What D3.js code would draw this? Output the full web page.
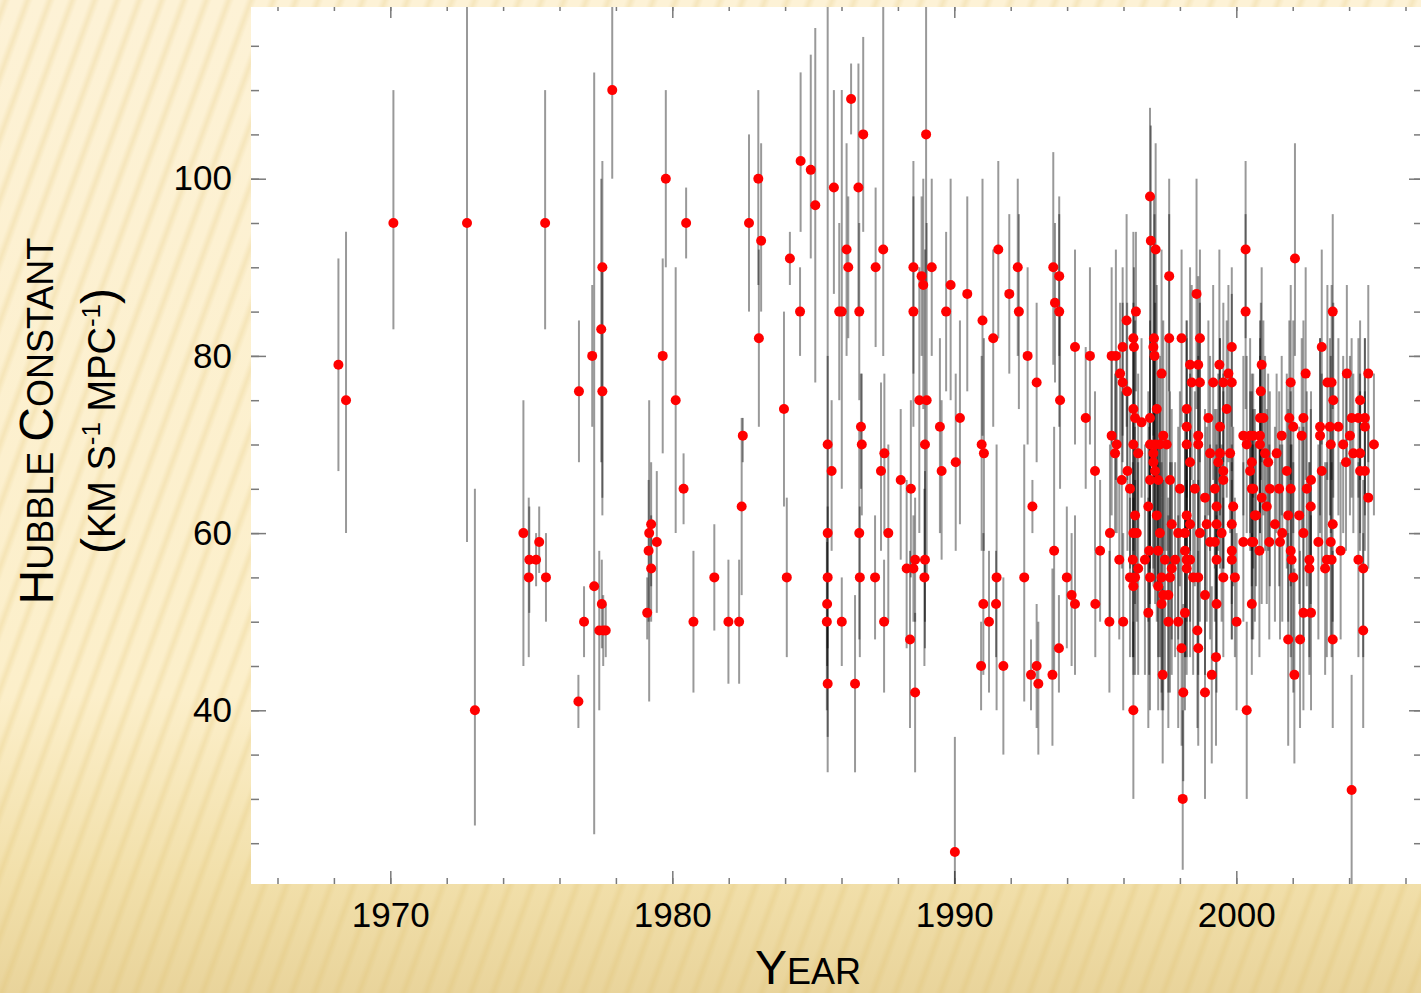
<!DOCTYPE html>
<html>
<head>
<meta charset="utf-8">
<title>Hubble constant over time</title>
<script src="https://cdn.jsdelivr.net/npm/d3@7"></script>
<style>
  body { margin: 0; overflow: hidden; }
  svg { display: block; }
</style>
</head>
<body>
<div id="chart"></div>
<script>
// each row: [year, H0, bottom of error bar, top of error bar]
var sixties = [
  [1968.16, 79, 67, 91], [1968.43, 75, 60, 94]
];

var seventies = [
  [1970.11, 95, 83, 110], [1972.72, 95, 59, 125], [1973.00, 40, 27, 65],
  [1975.49, 95, 83, 110], [1974.72, 60, 45, 75], [1974.91, 55, 46, 64],
  [1974.93, 57, 51, 63], [1975.17, 57, 54, 60], [1975.28, 59, 55.5, 63],
  [1975.52, 55, 50, 60], [1976.69, 76, 68, 84], [1976.67, 41, 38, 44],
  [1976.87, 50, 46, 54], [1977.16, 80, 72, 88], [1977.23, 54, 26, 112],
  [1977.41, 49, 40, 58], [1977.50, 52, 47, 57], [1977.55, 49, 45, 53],
  [1977.64, 49, 46, 52], [1977.52, 90, 64, 102], [1977.48, 83, 68, 100],
  [1977.52, 76, 62, 90], [1977.87, 110, 100, 125], [1979.11, 51, 48, 55],
  [1979.25, 61, 54, 68], [1979.18, 60, 41, 75], [1979.16, 58, 50, 66],
  [1979.45, 59, 51, 67], [1979.25, 56, 50, 62], [1979.77, 100, 90, 110],
  [1979.66, 80, 69, 91]
];

var eighties = [
  [1980.49, 95, 91, 99], [1980.12, 75, 60, 90], [1980.40, 65, 61, 69],
  [1980.75, 50, 42, 58], [1981.49, 55, 49, 61], [1981.99, 50, 43, 57],
  [1982.37, 50, 43, 57], [1982.46, 63, 53, 73], [1982.50, 71, 68, 73],
  [1982.72, 95, 85, 105], [1983.05, 100, 88, 110], [1983.15, 93, 85, 104],
  [1983.07, 82, 72, 92], [1983.96, 74, 63, 85], [1984.06, 55, 46, 64],
  [1984.17, 91, 88, 94], [1984.55, 102, 94, 112], [1984.53, 85, 80, 90],
  [1984.91, 101, 91, 114], [1985.07, 97, 77, 117], [1985.51, 70, 60, 80],
  [1985.51, 60, 33, 125], [1985.51, 55, 47, 63], [1985.49, 52, 45, 59],
  [1985.48, 50, 40, 60], [1985.51, 43, 37, 50], [1985.65, 67, 58, 75],
  [1985.73, 99, 87, 110], [1985.92, 85, 75, 95], [1986.34, 109, 105, 113],
  [1986.77, 105, 94, 116], [1986.60, 99, 85, 113], [1986.18, 92, 80, 104],
  [1986.24, 90, 82, 98], [1986.01, 85, 65, 110], [1986.63, 85, 75, 95],
  [1987.21, 90, 81, 99], [1987.48, 92, 80, 125], [1986.69, 72, 65, 78],
  [1986.72, 70, 62, 78], [1986.63, 60, 48, 72], [1986.65, 55, 46, 63],
  [1986.01, 50, 45, 55], [1986.48, 43, 33, 53], [1987.52, 69, 60, 78],
  [1987.40, 67, 58, 77], [1987.66, 60, 50, 70], [1987.19, 55, 48, 62],
  [1987.51, 50, 42, 57], [1988.10, 66, 57, 74], [1988.46, 65, 55, 75],
  [1988.31, 56, 47, 66], [1988.55, 56, 50, 62], [1988.61, 57, 50, 64],
  [1988.96, 57, 47, 67], [1988.94, 55, 45, 65], [1988.43, 48, 38, 58],
  [1988.61, 42, 33, 51], [1988.55, 90, 78, 102], [1988.84, 89, 80, 98],
  [1988.90, 88, 74, 100], [1988.55, 85, 72, 98], [1989.00, 105, 88, 125],
  [1989.20, 90, 80, 100], [1988.76, 75, 60, 90], [1989.02, 75, 55, 95],
  [1988.96, 70, 50, 92], [1989.49, 72, 60, 82], [1989.55, 67, 57, 75],
  [1989.87, 88, 75, 100], [1989.71, 85, 76, 94]
];

var nineties = [
  [1990.20, 73, 61, 84], [1990.05, 68, 58, 78], [1990.02, 24, 17, 37],
  [1990.46, 87, 76, 98], [1991.00, 84, 71, 100], [1990.97, 70, 58, 80],
  [1991.05, 69, 58, 82], [1990.95, 45, 40, 50], [1991.03, 52, 44, 60],
  [1991.23, 50, 42, 58], [1991.38, 82, 72, 92], [1991.56, 92, 82, 102],
  [1991.50, 55, 40, 70], [1991.48, 52, 46, 58], [1991.74, 45, 35, 55],
  [1991.95, 87, 78, 96], [1992.25, 90, 80, 100], [1992.29, 85, 74, 96],
  [1992.60, 80, 70, 90], [1992.92, 77, 68, 86], [1992.77, 63, 60, 66],
  [1992.48, 55, 41, 70], [1992.72, 44, 40, 48], [1992.92, 45, 38, 52],
  [1992.98, 43, 35, 50], [1993.48, 44, 36, 56], [1993.54, 58, 44, 72],
  [1993.51, 90, 79, 103], [1993.72, 89, 80, 98], [1993.57, 86, 77, 95],
  [1993.72, 85, 72, 96], [1993.75, 75, 65, 85], [1993.71, 47, 42, 53],
  [1993.99, 55, 47, 63], [1994.16, 53, 45, 60], [1994.28, 52, 44, 62],
  [1994.28, 81, 70, 92], [1994.66, 73, 65, 81], [1994.81, 80, 70, 90],
  [1994.99, 67, 58, 76], [1995.00, 52, 46, 58], [1995.17, 58, 50, 66],
  [1996.94, 98, 88, 108], [1996.97, 93, 80, 106], [1997.14, 92, 82, 104],
  [1997.62, 89, 76, 100], [1998.59, 87, 74, 100], [1996.44, 85, 76, 94],
  [1996.11, 84, 72, 96], [1996.35, 82, 70, 94], [1996.37, 81, 73, 90],
  [1997.08, 82, 66, 98], [1997.06, 81, 71, 92], [1997.10, 80, 62, 96],
  [1997.62, 82, 70, 96], [1998.06, 82, 72, 92], [1998.71, 82, 70, 92],
  [1995.58, 80, 70, 90], [1995.73, 80, 66, 92], [1995.97, 81, 71, 90],
  [1999.84, 81, 72, 90], [1998.36, 79, 68, 90], [1998.65, 79, 70, 89],
  [1999.40, 79, 66, 92], [1999.72, 78, 68, 88], [1995.88, 78, 70, 86],
  [1995.97, 77, 68, 86], [1996.13, 76, 66, 86], [1997.35, 78, 64, 92],
  [1998.42, 77, 66, 88], [1998.71, 77, 68, 86], [1999.18, 77, 66, 88],
  [1999.54, 77, 68, 86], [1999.84, 77, 67, 87], [1996.35, 74, 62, 86],
  [1997.18, 74, 60, 88], [1998.24, 74, 64, 84], [1999.66, 74, 64, 84],
  [1996.41, 73, 62, 84], [1996.64, 72.5, 64, 82], [1996.94, 73, 58, 88],
  [1999.01, 73, 62, 84], [1998.24, 72, 60, 84], [1999.42, 72, 62, 82],
  [1995.58, 71, 62, 80], [1997.41, 71, 58, 84], [1998.65, 71, 60, 82],
  [1995.76, 70, 60, 80], [1995.70, 69, 60, 78], [1996.35, 70, 58, 82],
  [1996.94, 70, 56, 84], [1997.12, 70, 54, 86], [1997.29, 70, 60, 80],
  [1997.53, 70, 58, 82], [1998.24, 70, 58, 82], [1998.65, 70, 60, 80],
  [1999.07, 69, 58, 80], [1999.42, 69, 56, 82], [1999.78, 69, 60, 78],
  [1996.52, 69, 60, 78], [1997.06, 69, 56, 82], [1996.14, 67, 58, 76],
  [1997.06, 68, 54, 82], [1997.12, 67, 52, 82], [1998.36, 68, 58, 78],
  [1999.36, 68, 58, 78], [1999.54, 67, 56, 78], [1995.94, 66, 56, 76],
  [1996.23, 65, 56, 74], [1996.94, 66, 52, 80], [1997.23, 66, 54, 78],
  [1997.65, 66, 56, 76], [1998.00, 65, 54, 76], [1998.53, 65, 54, 76],
  [1999.24, 65, 56, 74], [1999.54, 66, 56, 76], [1998.89, 64, 54, 74],
  [1999.30, 63, 52, 74], [1999.89, 63, 54, 72], [1996.41, 62, 52, 72],
  [1996.88, 63, 50, 76], [1997.18, 62, 50, 74], [1997.71, 61, 48, 74],
  [1998.24, 62, 50, 74], [1998.36, 61, 50, 72], [1998.95, 61, 50, 72],
  [1999.30, 61, 52, 70], [1999.84, 61, 52, 70], [1995.52, 60, 50, 70],
  [1996.35, 60, 46, 74], [1996.47, 60, 50, 70], [1997.29, 60, 46, 74],
  [1997.94, 60, 48, 72], [1998.18, 60, 46, 74], [1998.71, 60, 50, 70],
  [1999.48, 60, 50, 70], [1999.07, 59, 48, 70], [1999.24, 59, 50, 68],
  [1996.91, 58, 44, 72], [1997.23, 58, 46, 70], [1998.18, 58, 46, 70],
  [1999.84, 58, 48, 68], [1995.85, 57, 48, 66], [1996.33, 57, 46, 68],
  [1996.76, 57, 44, 70], [1997.47, 57, 44, 70], [1997.83, 57, 46, 68],
  [1998.24, 57, 44, 70], [1998.36, 57, 46, 68], [1999.30, 57, 46, 68],
  [1999.84, 57, 48, 66], [1996.52, 56, 44, 68], [1997.71, 56, 44, 68],
  [1998.24, 56, 46, 66], [1996.23, 55, 46, 64], [1996.41, 55, 44, 66],
  [1996.94, 55, 40, 70], [1997.35, 55, 42, 68], [1997.65, 55, 42, 68],
  [1998.47, 55, 44, 66], [1998.65, 55, 44, 66], [1999.54, 55, 46, 64],
  [1999.95, 55, 46, 64], [1996.35, 54, 44, 64], [1997.23, 54, 40, 68],
  [1997.41, 53, 40, 66], [1997.59, 53, 42, 64], [1997.35, 52, 40, 64],
  [1998.89, 53, 44, 62], [1999.30, 52, 42, 62], [1995.50, 50, 42, 58],
  [1995.99, 50, 40, 60], [1996.88, 51, 38, 64], [1997.59, 50, 38, 62],
  [1997.94, 50, 38, 62], [1998.18, 51, 40, 62], [1998.62, 49, 38, 60],
  [1998.06, 47, 36, 58], [1998.65, 47, 36, 58], [1999.28, 46, 36, 56],
  [1997.39, 44, 34, 54], [1999.13, 44, 34, 54], [1998.12, 42, 32, 52],
  [1998.89, 42, 30, 54], [1996.35, 40, 30, 50], [1998.10, 30, 22, 40]
];

var twothousands = [
  [2000.01, 50, 40, 60], [2000.25, 71, 62, 80], [2000.60, 71, 64, 78],
  [2000.37, 70, 60, 80], [2000.49, 67, 58, 76], [2000.60, 65, 56, 74],
  [2000.70, 62, 54, 70], [2000.25, 59, 50, 68], [2000.60, 59, 48, 70],
  [2000.55, 52, 44, 60], [2000.37, 40, 30, 50], [2000.33, 92, 82, 102],
  [2000.33, 85, 74, 96], [2002.08, 91, 80, 104], [2003.42, 85, 74, 96],
  [2003.03, 81, 70, 92], [2000.90, 79, 68, 90], [2002.46, 78, 66, 90],
  [2001.93, 77, 66, 88], [2003.23, 77, 66, 88], [2003.38, 77, 66, 88],
  [2003.92, 78, 68, 88], [2004.68, 78, 68, 88], [2003.44, 75, 64, 86],
  [2000.87, 76, 66, 86], [2004.39, 75, 66, 84], [2000.84, 73, 62, 84],
  [2000.96, 73, 62, 84], [2001.88, 73, 62, 84], [2002.38, 73, 62, 84],
  [2004.09, 73, 64, 82], [2004.33, 73, 64, 82], [2004.56, 73, 64, 82],
  [2000.49, 71, 60, 82], [2000.84, 71, 60, 82], [2001.61, 71, 62, 80],
  [2002.02, 72, 60, 84], [2002.32, 71, 60, 82], [2002.97, 72, 62, 82],
  [2003.32, 72, 62, 82], [2003.62, 72, 62, 82], [2002.97, 71, 60, 82],
  [2003.35, 70, 60, 80], [2003.79, 70, 60, 80], [2004.03, 71, 62, 80],
  [2004.56, 72, 62, 82], [2004.88, 70, 62, 78], [2000.84, 70, 60, 80],
  [2001.02, 69, 58, 80], [2001.43, 69, 60, 78], [2000.55, 68, 58, 78],
  [2001.13, 68, 58, 78], [2003.89, 68, 58, 78], [2004.15, 69, 60, 78],
  [2004.39, 69, 60, 78], [2001.79, 67, 56, 78], [2003.03, 67, 56, 78],
  [2004.39, 67, 58, 76], [2004.56, 67, 58, 76], [2002.65, 66, 56, 76],
  [2000.55, 65, 54, 76], [2001.19, 65, 54, 76], [2001.52, 65, 54, 76],
  [2001.93, 65, 54, 76], [2002.50, 65, 54, 76], [2000.90, 64, 52, 76],
  [2001.08, 63, 52, 74], [2004.68, 64, 56, 72], [2002.64, 63, 52, 74],
  [2000.66, 62, 50, 74], [2001.84, 62, 50, 74], [2002.23, 62, 52, 72],
  [2001.37, 61, 50, 72], [2003.42, 61, 50, 72], [2001.63, 60, 50, 70],
  [2002.38, 60, 48, 72], [2000.55, 59, 48, 70], [2001.17, 59, 48, 70],
  [2001.55, 59, 48, 70], [2002.91, 59, 48, 70], [2003.35, 59, 48, 70],
  [2000.82, 58, 46, 70], [2001.93, 58, 46, 70], [2003.70, 58, 48, 68],
  [2001.96, 57, 44, 70], [2002.59, 57, 46, 68], [2003.21, 57, 46, 68],
  [2003.38, 57, 46, 68], [2004.33, 57, 46, 68], [2002.59, 56, 44, 68],
  [2003.15, 56, 44, 68], [2004.50, 56, 46, 66], [2002.02, 55, 42, 68],
  [2002.38, 51, 40, 62], [2002.65, 51, 40, 62], [2001.84, 48, 36, 60],
  [2002.26, 48, 38, 58], [2003.42, 48, 38, 58], [2004.50, 49, 38, 60],
  [2002.06, 44, 34, 56], [2004.09, 31, 20, 44]
];

var yearTicks = [1970, 1980, 1990, 2000];
var h0Ticks = [40, 60, 80, 100];

var width = 1421, height = 993;
var plot = {left: 251, right: 1420, top: 7, bottom: 884};

var svg = d3.select("#chart").append("svg")
  .attr("width", width)
  .attr("height", height);

var defs = svg.append("defs");

// slide background: warm cream, soft diagonal stripes, darker toward the bottom
var grad = defs.append("linearGradient")
  .attr("id", "bg")
  .attr("x1", 0).attr("y1", 0).attr("x2", 0).attr("y2", 1);
[[0, "#fdf2d6"], [0.7, "#fcefca"], [0.88, "#f2e0ab"], [1, "#e9d49b"]].forEach(function(s) {
  grad.append("stop").attr("offset", s[0]).attr("stop-color", s[1]);
});

var soft = defs.append("linearGradient").attr("id", "soft");
[[0, 0], [0.5, 1], [1, 0]].forEach(function(s) {
  soft.append("stop").attr("offset", s[0]).attr("stop-color", "#d9b860").attr("stop-opacity", s[1]);
});

var stripes = defs.append("pattern")
  .attr("id", "stripes")
  .attr("patternUnits", "userSpaceOnUse")
  .attr("width", 21)
  .attr("height", 60)
  .attr("patternTransform", "rotate(20)");
stripes.append("rect")
  .attr("x", 0).attr("width", 10).attr("height", 60)
  .attr("fill", "url(#soft)").attr("opacity", 0.22);

defs.append("clipPath").attr("id", "clip")
  .append("rect")
  .attr("x", plot.left).attr("y", plot.top)
  .attr("width", plot.right - plot.left + 1)
  .attr("height", plot.bottom - plot.top);

svg.append("rect").attr("width", width).attr("height", height).attr("fill", "url(#bg)");
svg.append("rect").attr("width", width).attr("height", height).attr("fill", "url(#stripes)");

svg.append("rect")
  .attr("x", plot.left).attr("y", plot.top)
  .attr("width", width - plot.left)
  .attr("height", plot.bottom - plot.top)
  .attr("fill", "#ffffff");

var x = d3.scaleLinear().domain([1970, 2000]).range([390.3, 1236.3]);
var y = d3.scaleLinear().domain([40, 100]).range([710.3, 178.7]);

var minorYears = d3.range(1966, 2008, 2);
var minorH0 = d3.range(25, 120, 5);

function styleAxis(g, labels) {
  g.select(".domain").remove();
  g.selectAll(".tick line").attr("stroke", "#7a7a7a").attr("stroke-width", 1.5);
  if (labels) {
    g.selectAll(".tick text")
      .attr("fill", "#000")
      .attr("font-family", "'Liberation Sans', Arial, sans-serif")
      .attr("font-size", 35);
  } else {
    g.selectAll(".tick text").remove();
  }
}

// bottom
svg.append("g").attr("transform", "translate(0," + plot.bottom + ")")
  .call(d3.axisBottom(x).tickValues(minorYears).tickSize(-6).tickFormat(""))
  .call(styleAxis, false);
svg.append("g").attr("transform", "translate(0," + plot.bottom + ")")
  .call(d3.axisBottom(x).tickValues(yearTicks).tickSize(-13).tickPadding(18).tickFormat(d3.format("d")))
  .call(styleAxis, true);
// top
svg.append("g").attr("transform", "translate(0," + plot.top + ")")
  .call(d3.axisTop(x).tickValues(minorYears).tickSize(-4).tickFormat(""))
  .call(styleAxis, false);
svg.append("g").attr("transform", "translate(0," + plot.top + ")")
  .call(d3.axisTop(x).tickValues(yearTicks).tickSize(-11).tickFormat(""))
  .call(styleAxis, false);
// left
svg.append("g").attr("transform", "translate(" + plot.left + ",0)")
  .call(d3.axisLeft(y).tickValues(minorH0).tickSize(-8).tickFormat(""))
  .call(styleAxis, false);
svg.append("g").attr("transform", "translate(" + plot.left + ",0)")
  .call(d3.axisLeft(y).tickValues(h0Ticks).tickSize(-15).tickPadding(19).tickFormat(d3.format("d")))
  .call(styleAxis, true);
// right
svg.append("g").attr("transform", "translate(" + plot.right + ",0)")
  .call(d3.axisRight(y).tickValues(minorH0).tickSize(-6).tickFormat(""))
  .call(styleAxis, false);
svg.append("g").attr("transform", "translate(" + plot.right + ",0)")
  .call(d3.axisRight(y).tickValues(h0Ticks).tickSize(-11).tickFormat(""))
  .call(styleAxis, false);

var all = sixties.concat(seventies, eighties, nineties, twothousands);

var marks = svg.append("g").attr("clip-path", "url(#clip)");

marks.selectAll("line.err")
  .data(all)
  .enter()
  .append("line")
  .attr("class", "err")
  .attr("x1", function(d) { return x(d[0]); })
  .attr("x2", function(d) { return x(d[0]); })
  .attr("y1", function(d) { return y(d[2]); })
  .attr("y2", function(d) { return y(d[3]); })
  .attr("stroke", "#000")
  .attr("stroke-opacity", 0.4)
  .attr("stroke-width", 2);

marks.selectAll("circle")
  .data(all)
  .enter()
  .append("circle")
  .attr("cx", function(d) { return x(d[0]); })
  .attr("cy", function(d) { return y(d[1]); })
  .attr("r", 5)
  .attr("fill", "#ff0000");

// axis titles, small caps done by hand
var font = "'Liberation Sans', Arial, sans-serif";

var xTitle = svg.append("text")
  .attr("x", 808)
  .attr("y", 984)
  .attr("text-anchor", "middle")
  .attr("font-family", font)
  .attr("fill", "#000");
xTitle.append("tspan").attr("font-size", 48).text("Y");
xTitle.append("tspan").attr("font-size", 36).text("EAR");

var yTitle = svg.append("g").attr("transform", "translate(0,421) rotate(-90)");

var line1 = yTitle.append("text")
  .attr("x", 0).attr("y", 53)
  .attr("text-anchor", "middle")
  .attr("font-family", font)
  .attr("fill", "#000");
line1.append("tspan").attr("font-size", 48).text("H");
line1.append("tspan").attr("font-size", 36).text("UBBLE ");
line1.append("tspan").attr("font-size", 48).text("C");
line1.append("tspan").attr("font-size", 36).text("ONSTANT");

var line2 = yTitle.append("text")
  .attr("x", 0).attr("y", 115)
  .attr("text-anchor", "middle")
  .attr("font-family", font)
  .attr("fill", "#000");
line2.append("tspan").attr("font-size", 48).text("(");
line2.append("tspan").attr("font-size", 38).text("KM S");
line2.append("tspan").attr("font-size", 26).attr("dy", -15).text("-1");
line2.append("tspan").attr("font-size", 38).attr("dy", 15).text(" MPC");
line2.append("tspan").attr("font-size", 26).attr("dy", -15).text("-1");
line2.append("tspan").attr("font-size", 48).attr("dy", 15).text(")");
</script>
</body>
</html>
